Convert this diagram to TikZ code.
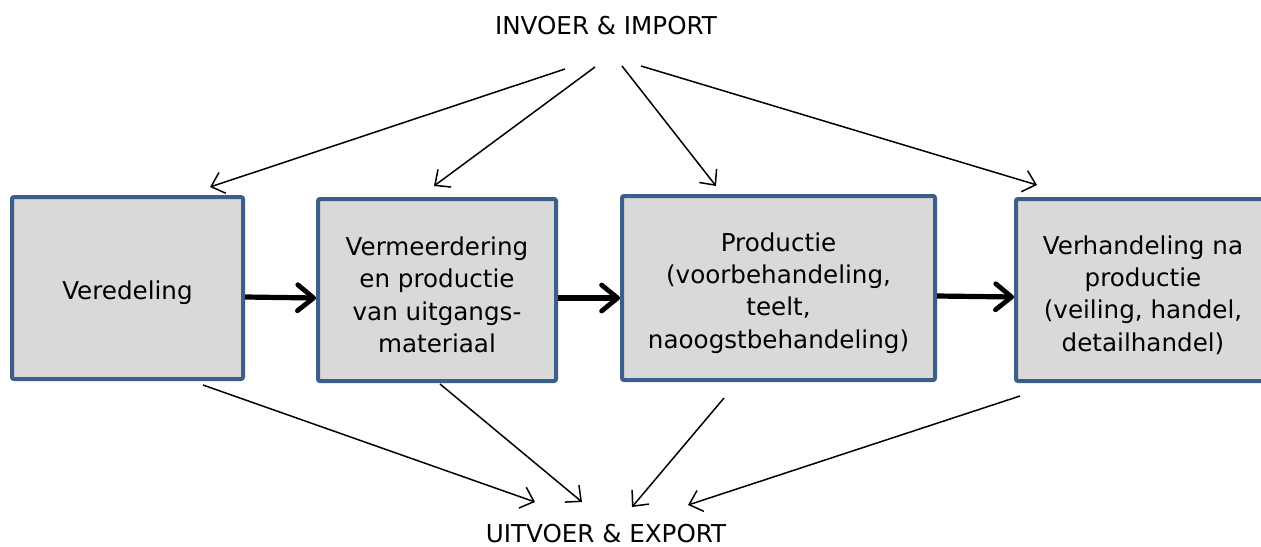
\documentclass[tikz,border=0pt]{standalone}
\usepackage{fontspec}
\setmainfont{DejaVu Sans}
\usetikzlibrary{arrows.meta}
\definecolor{boxblue}{RGB}{59,94,140}
\definecolor{boxfill}{RGB}{217,217,217}
\begin{document}
\begin{tikzpicture}[x=0.5pt,y=-0.5pt,
  stage/.style={draw=boxblue,line width=2pt,fill=boxfill,rounded corners=1pt,inner sep=0pt},
  stagetext/.style={inner sep=0pt,align=center,font=\fontsize{12.3}{16.2}\selectfont},
  lbl/.style={font=\fontsize{12.3}{16.2}\selectfont,inner sep=0pt},
  thin/.style={line width=0.75pt,-{Straight Barb[length=6pt,width=11pt,line width=0.75pt]}},
  thick/.style={line width=2.6pt,-{Straight Barb[length=8pt,width=13pt,line width=2.4pt,round]}}]
\useasboundingbox (0,0) rectangle (1261,546);
\clip (0,0) rectangle (1261,546);
\node[stage,minimum width=231*0.5pt,minimum height=182*0.5pt] (a) at (127.5,288) {};
\node[stage,minimum width=238*0.5pt,minimum height=182*0.5pt] (b) at (437,290) {};
\node[stage,minimum width=313*0.5pt,minimum height=184*0.5pt] (c) at (778.5,288) {};
\node[stage,minimum width=254*0.5pt,minimum height=182*0.5pt] (d) at (1143,290) {};
\node[stagetext] (ta) at ([yshift=-2.5pt]a.center) {Veredeling};
\node[stagetext] (tb) at ([yshift=-2.5pt]b.center) {Vermeerdering\\en productie\\van uitgangs-\\materiaal};
\node[stagetext] (tc) at ([yshift=-2.5pt]c.center) {Productie\\(voorbehandeling,\\teelt,\\naoogstbehandeling)};
\node[stagetext] (td) at ([yshift=-2.5pt]d.center) {Verhandeling na\\productie\\(veiling, handel,\\detailhandel)};
\node[lbl] (in) at (606,26) {INVOER \& IMPORT};
\node[lbl] (out) at (606,534) {UITVOER \& EXPORT};
% thick flow arrows
\draw[thick] (a.east |- 0,297) -- (b.west |- 0,298);
\draw[thick] (b.east |- 0,298) -- (c.west |- 0,298);
\draw[thick] (c.east |- 0,296) -- (d.west |- 0,297);
% import arrows
\coordinate (i1) at (565,69); \coordinate (ia) at (210,187);
\coordinate (i2) at (595,67); \coordinate (ib) at (434,186);
\coordinate (i3) at (622,66); \coordinate (ic) at (716,186);
\coordinate (i4) at (641,66); \coordinate (id) at (1037,185);
\draw[thin] (i1) -- (ia);
\draw[thin] (i2) -- (ib);
\draw[thin] (i3) -- (ic);
\draw[thin] (i4) -- (id);
% export arrows
\coordinate (oa) at (203,385); \coordinate (o1) at (535,502);
\coordinate (ob) at (440,384); \coordinate (o2) at (582,502);
\coordinate (oc) at (724,398); \coordinate (o3) at (632,507);
\coordinate (od) at (1020,396); \coordinate (o4) at (688,505);
\draw[thin] (oa) -- (o1);
\draw[thin] (ob) -- (o2);
\draw[thin] (oc) -- (o3);
\draw[thin] (od) -- (o4);
\end{tikzpicture}
\end{document}
